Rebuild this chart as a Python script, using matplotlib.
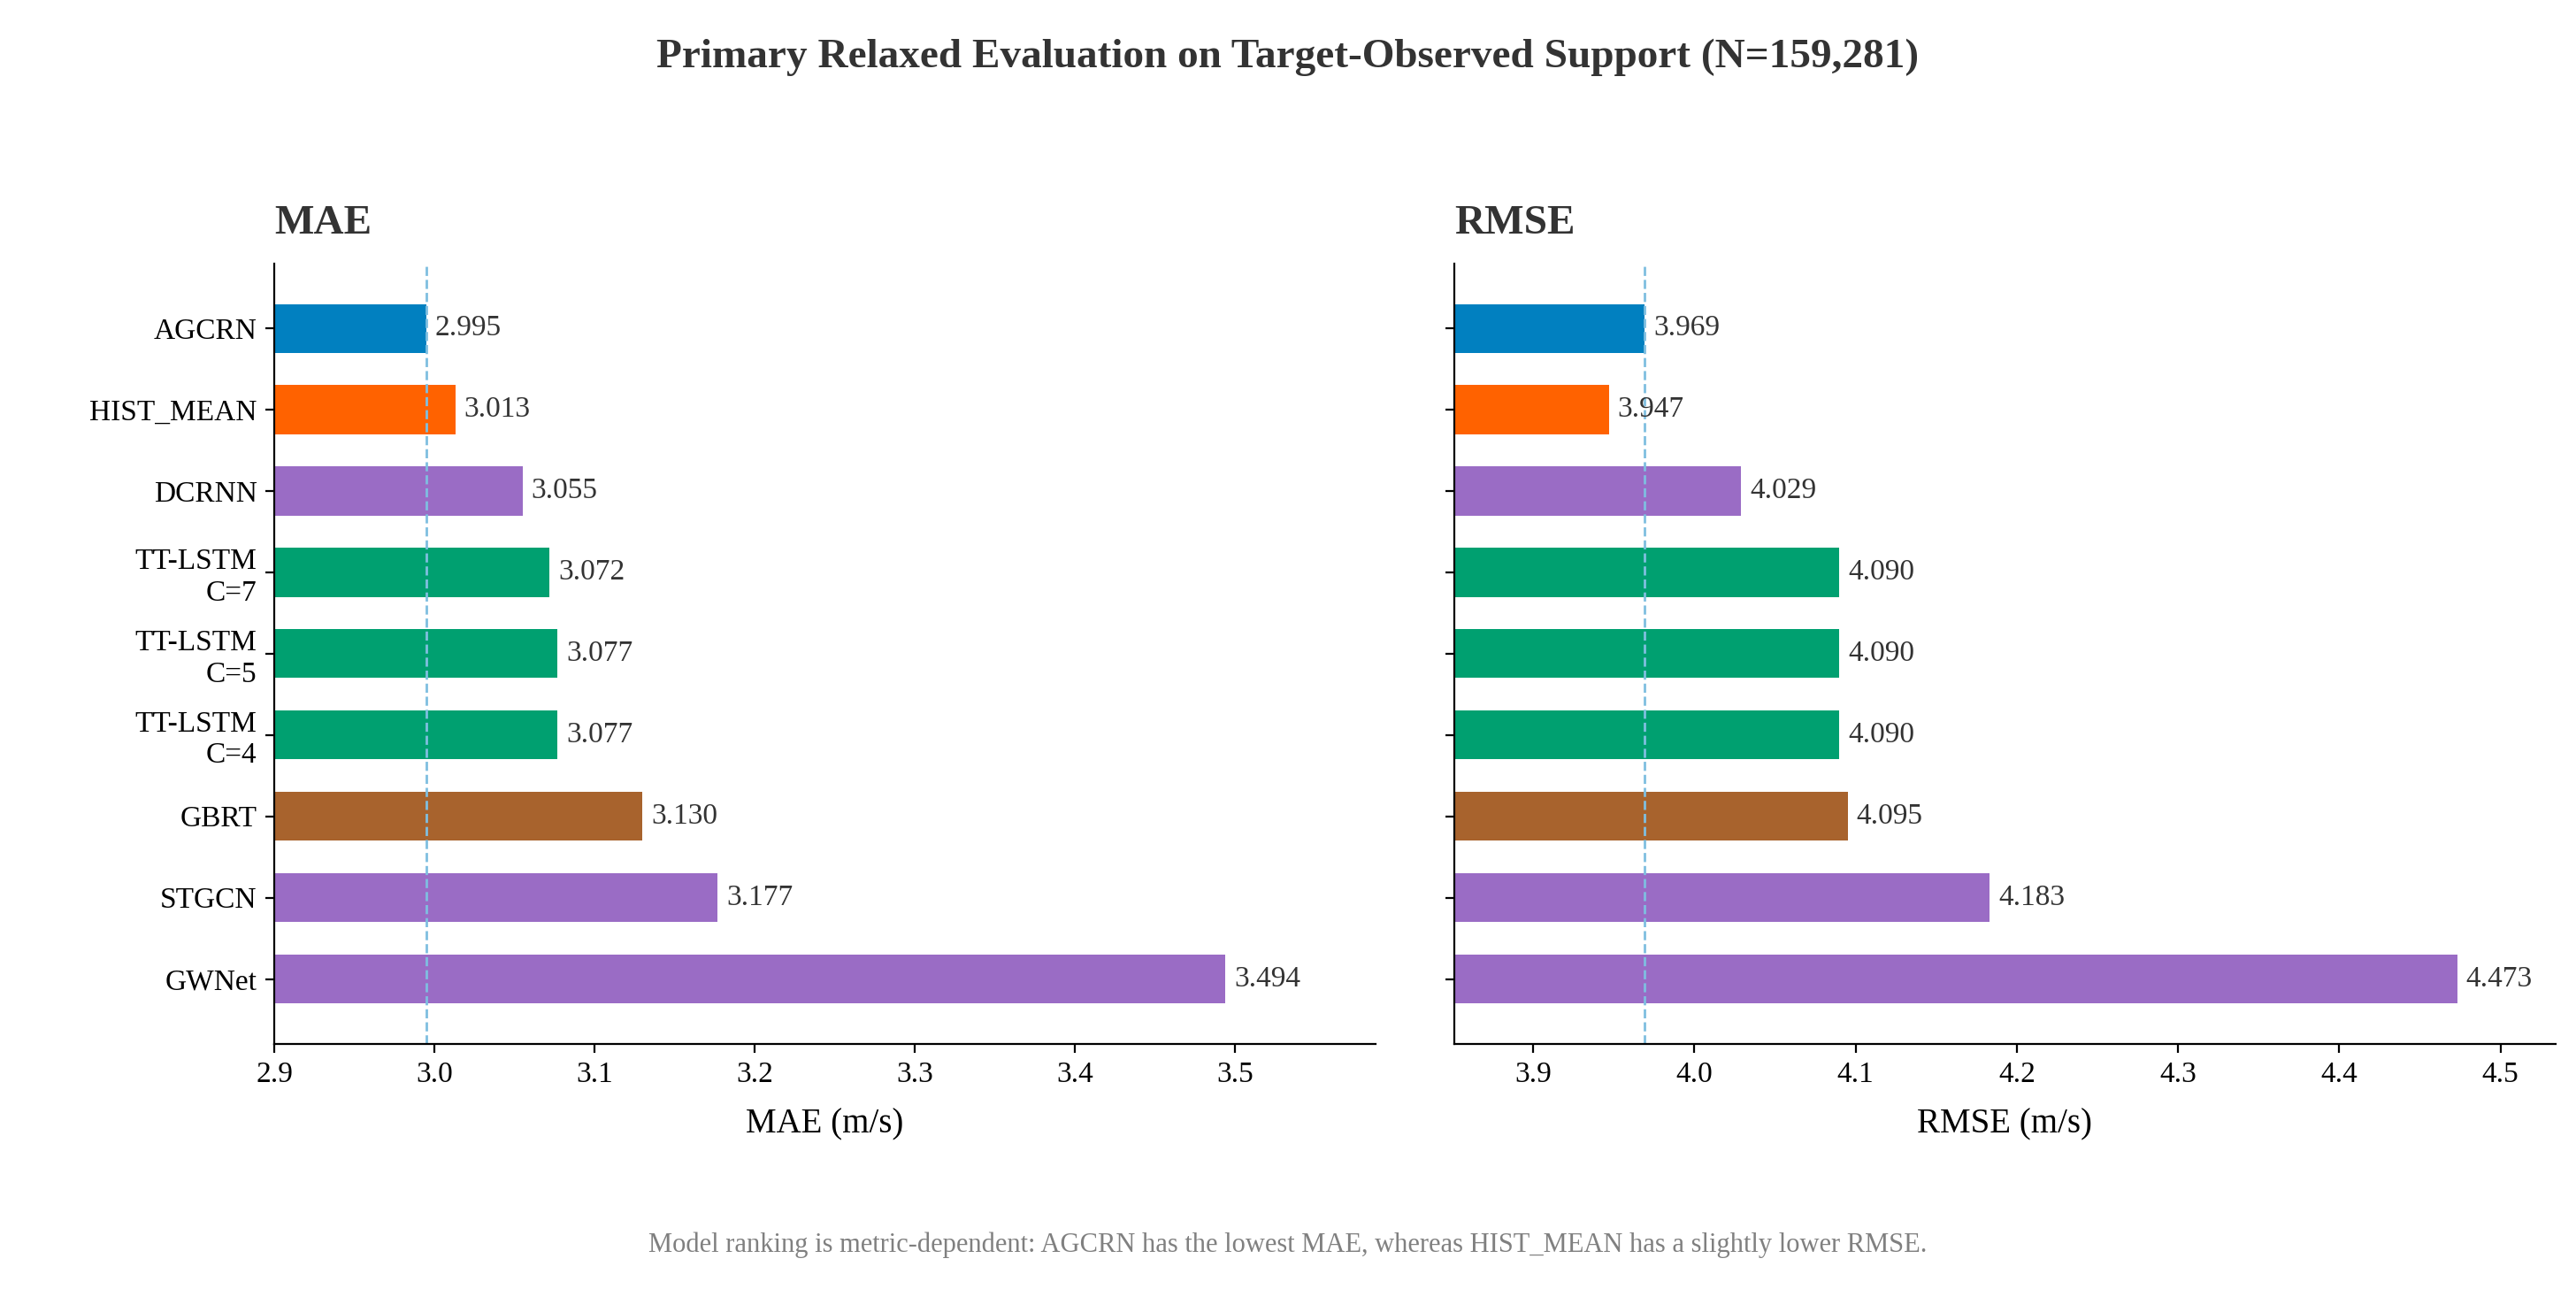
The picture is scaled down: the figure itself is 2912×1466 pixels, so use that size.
import matplotlib.pyplot as plt

plt.rcParams['font.family'] = ['Liberation Serif', 'DejaVu Serif']

models = ['AGCRN', 'HIST_MEAN', 'DCRNN', 'TT-LSTM\nC=7', 'TT-LSTM\nC=5', 'TT-LSTM\nC=4', 'GBRT', 'STGCN', 'GWNet']
mae = [2.995, 3.013, 3.055, 3.072, 3.077, 3.077, 3.130, 3.177, 3.494]
rmse = [3.969, 3.947, 4.029, 4.090, 4.090, 4.090, 4.095, 4.183, 4.473]
colors = ['#0180C0', '#FF6200', '#9A6CC5', '#00A070', '#00A070', '#00A070', '#A8632D', '#9A6CC5', '#9A6CC5']

fig = plt.figure(figsize=(14.56, 7.33), dpi=200)
ax1 = fig.add_axes([0.1065, 0.195, 0.4275, 0.602])
ax2 = fig.add_axes([0.5645, 0.195, 0.4275, 0.602])

def panel(ax, vals, title, xlabel, xlim, ticks):
    y = range(len(models))
    ax.barh(y, vals, height=0.6, color=colors, left=0)
    ax.set_xlim(*xlim)
    ax.set_ylim(len(models) - 0.2, -0.8)
    ax.axvline(vals[0], color='#7FBFE0', ls='--', lw=1)
    for i, v in enumerate(vals):
        ax.text(v + (xlim[1] - xlim[0]) * 0.008, i, f'{v:.3f}', va='center', fontsize=12, color='#333333')
    ax.set_xticks(ticks)
    ax.set_xticklabels([f'{t:.1f}' for t in ticks], fontsize=12)
    ax.set_yticks(list(y))
    ax.tick_params(axis='y', labelsize=12)
    ax.set_xlabel(xlabel, fontsize=14, labelpad=8)
    ax.set_title(title, loc='left', fontsize=17, fontweight='bold', color='#333333', pad=12)
    for s in ['top', 'right']:
        ax.spines[s].set_visible(False)

panel(ax1, mae, 'MAE', 'MAE (m/s)', (2.9, 3.588), [2.9, 3.0, 3.1, 3.2, 3.3, 3.4, 3.5])
ax1.set_yticklabels(models)
panel(ax2, rmse, 'RMSE', 'RMSE (m/s)', (3.851, 4.534), [3.9, 4.0, 4.1, 4.2, 4.3, 4.4, 4.5])
ax2.set_yticklabels([])

fig.suptitle('Primary Relaxed Evaluation on Target-Observed Support (N=159,281)',
             fontsize=17, fontweight='bold', color='#333333', y=0.97)
fig.text(0.5, 0.035, 'Model ranking is metric-dependent: AGCRN has the lowest MAE, whereas HIST_MEAN has a slightly lower RMSE.',
         ha='center', fontsize=11, color='#808080')
fig.savefig('out.png', dpi=200)
